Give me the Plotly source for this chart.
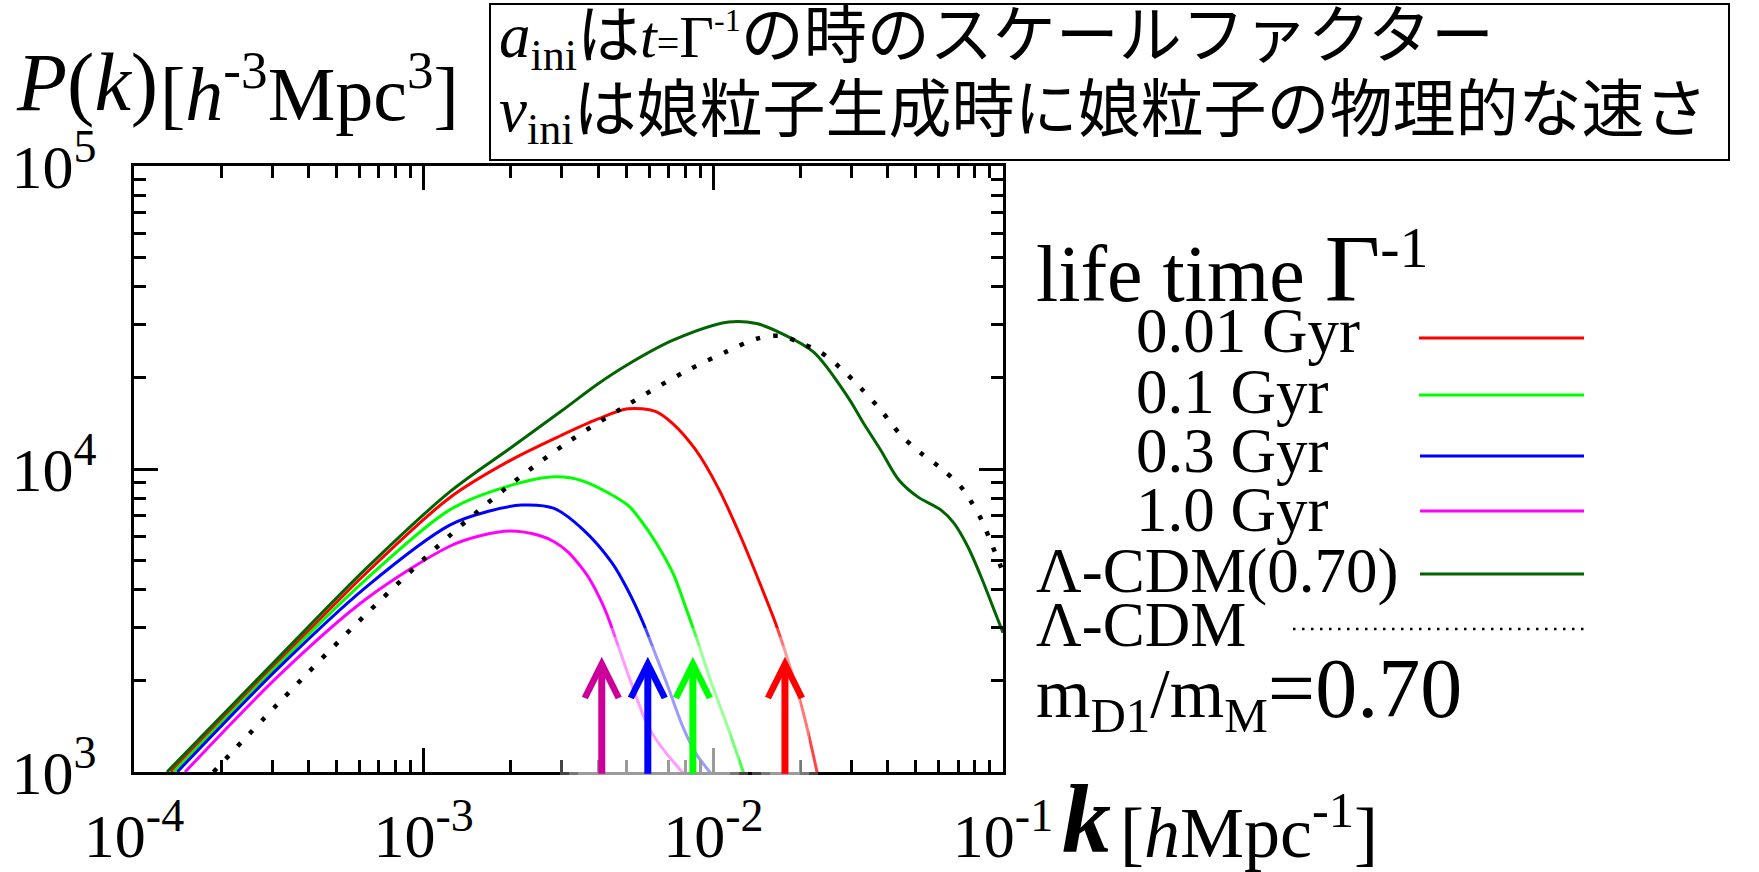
import math
import plotly.graph_objects as go

SERIF = "Liberation Serif"
JP = "Liberation Serif, Noto Sans CJK JP"

# ---- power spectra P(k) [h^-3 Mpc^3] vs k [h/Mpc] ----
# decay life time 0.01 Gyr
k_001 = [1.34e-4, 3.16e-4, 6.31e-4, 1.23e-3, 2.00e-3, 2.98e-3, 3.98e-3, 5.07e-3, 6.31e-3,
         7.26e-3, 8.67e-3, 1.04e-2, 1.24e-2, 1.48e-2, 1.67e-2, 2.02e-2, 2.28e-2, 2.51e-2]
P_001 = [1000, 2320, 4520, 8040, 10700, 12900, 14600, 15800, 15500,
         14100, 11600, 8650, 6010, 3980, 2950, 1640, 1000, 630]

# decay life time 0.1 Gyr
k_01 = [1.37e-4, 3.16e-4, 6.31e-4, 1.23e-3, 1.91e-3, 2.84e-3, 3.55e-3, 5.07e-3, 5.62e-3,
        6.31e-3, 7.26e-3, 7.98e-3, 8.91e-3, 9.72e-3, 1.12e-2, 1.26e-2, 1.41e-2]
P_01 = [1000, 2270, 4315, 7330, 8710, 9420, 9120, 7590, 6760,
        5750, 4520, 3550, 2630, 2040, 1410, 1020, 760]

# decay life time 0.3 Gyr
k_03 = [1.41e-4, 3.16e-4, 6.31e-4, 1.23e-3, 1.66e-3, 2.18e-3, 2.82e-3, 3.55e-3,
        4.47e-3, 5.07e-3, 5.68e-3, 6.31e-3, 6.92e-3, 7.85e-3, 8.71e-3, 9.89e-3, 1.12e-2]
P_03 = [1000, 2210, 4070, 6530, 7240, 7600, 7410, 6310,
        4900, 3980, 3160, 2450, 1950, 1410, 1150, 980, 850]

# decay life time 1.0 Gyr
k_10 = [1.50e-4, 3.16e-4, 6.31e-4, 1.23e-3, 1.58e-3, 1.99e-3, 2.51e-3, 2.82e-3, 3.16e-3,
        3.47e-3, 3.72e-3, 4.12e-3, 4.33e-3, 5.27e-3, 6.04e-3, 7.67e-3, 8.91e-3]
P_10 = [1000, 2080, 3715, 5560, 6030, 6240, 6030, 5750, 5310,
        4790, 4370, 3630, 3240, 1905, 1380, 1020, 890]

# Lambda-CDM with m_D1/m_M = 0.70
k_cdm070 = [1.30e-4, 3.16e-4, 6.31e-4, 1.23e-3, 2.00e-3, 2.98e-3, 3.98e-3, 5.07e-3,
            7.26e-3, 1.13e-2, 1.41e-2, 1.71e-2, 2.22e-2, 2.91e-2, 3.28e-2, 3.78e-2,
            4.37e-2, 5.08e-2, 6.10e-2, 6.76e-2, 7.57e-2, 8.40e-2, 9.31e-2, 0.100]
P_cdm070 = [1000, 2390, 4680, 8400, 11750, 15500, 19050, 22130,
            26610, 30550, 30200, 28100, 24300, 17300, 14300, 11560,
            9200, 8090, 7330, 6640, 5530, 4410, 3430, 2880]

# standard Lambda-CDM
k_cdm = [1.88e-4, 3.16e-4, 6.31e-4, 1.23e-3, 2.00e-3, 3.16e-3, 5.01e-3, 7.94e-3,
         1.12e-2, 1.41e-2, 1.71e-2, 2.00e-2, 2.34e-2, 2.75e-2, 3.23e-2, 3.78e-2,
         4.44e-2, 5.20e-2, 6.10e-2, 7.16e-2, 7.75e-2, 8.40e-2, 9.08e-2, 0.100]
P_cdm = [1000, 1690, 3310, 6030, 8910, 12300, 16200, 20900,
         24500, 26900, 27500, 26060, 24320, 21530, 18490, 15670,
         12940, 11300, 10070, 8730, 7830, 6840, 5740, 4570]

# cut-off wavenumbers marked with arrows (1.0, 0.3, 0.1, 0.01 Gyr)
arrow_k = [4.12e-3, 5.94e-3, 8.50e-3, 1.767e-2]
arrow_colors = ["#cc0099", "#0000ff", "#00ff00", "#ff0000"]
arrow_tip_P = 2400
arrow_base_P = 975

legend_labels = ["0.01 Gyr", "0.1 Gyr", "0.3 Gyr", "1.0 Gyr", "Λ-CDM(0.70)", "Λ-CDM"]

EXP = "<sup><span style='font-size:46px'>%s</span></sup>"
x_tickvals = [1e-4, 1e-3, 1e-2, 1e-1]
x_ticktext = ["10" + EXP % "-4", "10" + EXP % "-3", "10" + EXP % "-2", "10" + EXP % "-1"]
y_tickvals = [1e3, 1e4, 1e5]
y_ticktext = ["10" + EXP % "3", "10" + EXP % "4", "10" + EXP % "5"]

# ---- page geometry (pixels) ----
W, H = 1759, 872
L, R, T, B = 134, 1003, 166, 772


def xp(px):
    return (px - L) / (R - L)


def yp(py):
    return (B - py) / (B - T)


fig = go.Figure()

series = [
    (k_001, P_001, "#ff0000"),
    (k_01, P_01, "#00ff00"),
    (k_03, P_03, "#0000ff"),
    (k_10, P_10, "#ff00ff"),
    (k_cdm070, P_cdm070, "#006400"),
]
for kk, pp, col in series:
    fig.add_trace(go.Scatter(x=kk, y=pp, mode="lines",
                             line=dict(color=col, width=3, shape="spline", smoothing=0.9),
                             showlegend=False, hoverinfo="skip"))
fig.add_trace(go.Scatter(x=k_cdm, y=P_cdm, mode="lines",
                         line=dict(color="black", width=4.5, dash="4.5px,13px",
                                   shape="spline", smoothing=0.9),
                         showlegend=False, hoverinfo="skip"))

minor_x = [m * 10 ** e for e in (-4, -3, -2) for m in range(2, 10)]
minor_y = [m * 10 ** e for e in (3, 4) for m in range(2, 10)]

axis_common = dict(showgrid=False, zeroline=False, showline=True, linecolor="black",
                   linewidth=3, mirror="allticks", ticks="inside", ticklen=24,
                   tickwidth=3, tickcolor="black", automargin=False,
                   tickfont=dict(family=SERIF, size=62, color="black"))

fig.update_xaxes(type="log", range=[-4, -1], tickmode="array", tickvals=x_tickvals,
                 ticktext=x_ticktext, ticklabelstandoff=8,
                 minor=dict(ticks="inside", ticklen=12, tickwidth=3, tickcolor="black",
                            tickmode="array", tickvals=minor_x, showgrid=False),
                 **axis_common)
fig.update_yaxes(type="log", range=[3, 5], tickmode="array", tickvals=y_tickvals,
                 ticktext=y_ticktext, ticklabelstandoff=22,
                 minor=dict(ticks="inside", ticklen=12, tickwidth=3, tickcolor="black",
                            tickmode="array", tickvals=minor_y, showgrid=False),
                 **axis_common)

shapes = []


# soft white glow behind the cut-off arrows
def glow(x0, x1, y0, y1):
    for inset in (0, 9, 18):
        shapes.append(dict(type="rect", xref="paper", yref="paper",
                           x0=xp(x0 + inset), x1=xp(x1 - inset),
                           y0=yp(y1 - inset * 0.6), y1=yp(y0 + inset),
                           fillcolor="rgba(255,255,255,0.27)", line=dict(width=0),
                           layer="above"))


glow(560, 748, 628, 792)
glow(752, 818, 628, 792)

# legend line samples
legend_rows = [("#ff0000", 1419, 338, "solid"), ("#00ff00", 1419, 395, "solid"),
               ("#0000ff", 1420, 456, "solid"), ("#ff00ff", 1420, 511, "solid"),
               ("#006400", 1420, 574, "solid"), ("black", 1293, 629, "2.5px,6.5px")]
for col, x0, y, dash in legend_rows:
    shapes.append(dict(type="line", xref="paper", yref="paper",
                       x0=xp(x0), x1=xp(1584), y0=yp(y), y1=yp(y),
                       line=dict(color=col, width=3 if dash == "solid" else 2.5, dash=dash),
                       layer="above"))

# note box at the top
shapes.append(dict(type="rect", xref="paper", yref="paper",
                   x0=xp(490), x1=xp(1729), y0=yp(160), y1=yp(4),
                   line=dict(color="black", width=2), fillcolor="white", layer="above"))

fig.update_layout(shapes=shapes)


def text_at(px, base, size, txt, family=SERIF):
    # place text so that its baseline sits at pixel row `base`
    mid = base - 0.338 * size
    fig.add_annotation(x=xp(px), y=yp(mid), xref="paper", yref="paper",
                       xanchor="left", yanchor="middle", showarrow=False, align="left",
                       text=txt, font=dict(family=family, size=size, color="black"))


# axis titles
text_at(14, 110, 82, "<i>P</i>(<i>k</i>)")
text_at(158, 114, 76, "[<i>h</i><sup>-3</sup>Mpc<sup>3</sup>]")
text_at(1060, 852, 98, "<b><i>k</i></b>")
text_at(1118, 852, 72, "[<i>h</i>Mpc<sup>-1</sup>]")

# legend block
text_at(1034, 296, 80,
        "life time <span style='font-size:96px'>Γ</span>"
        "<sup><span style='font-size:58px'>-1</span></sup>")
legend_pos = [(1134, 352), (1134, 413), (1134, 472), (1134, 531), (1034, 592), (1034, 646)]
for lab, (px, base) in zip(legend_labels, legend_pos):
    text_at(px, base, 63, lab)
text_at(1034, 716, 70,
        "m<sub>D1</sub>/m<sub>M</sub><span style='font-size:84px'>=0.70</span>")

# notes inside the box
note1 = ("<i>a</i><sub>ini</sub>は<span style='font-size:60px'><i>t</i></span>"
         "<span style='font-size:40px'>=</span><span style='font-size:60px'>Γ</span>"
         "<sup><span style='font-size:32px'>-1</span></sup>"
         "の時のスケールファクター")
note2 = "<i>v</i><sub>ini</sub>は娘粒子生成時に娘粒子の物理的な速さ"
for txt, cy in ((note1, 40), (note2, 114)):
    fig.add_annotation(x=xp(497), y=yp(cy), xref="paper", yref="paper",
                       xanchor="left", yanchor="middle", showarrow=False, align="left",
                       text=txt, font=dict(family=JP, size=63, color="black"))

# cut-off arrows
for kc, col in zip(arrow_k, arrow_colors):
    fig.add_annotation(x=math.log10(kc), y=math.log10(arrow_tip_P),
                       ax=math.log10(kc), ay=math.log10(arrow_base_P),
                       xref="x", yref="y", axref="x", ayref="y", text="",
                       showarrow=True, arrowhead=5, arrowsize=0.95, arrowwidth=7,
                       arrowcolor=col, standoff=0, startstandoff=0)

fig.update_layout(template="none", width=W, height=H, autosize=False,
                  margin=dict(l=L, r=W - R, t=T, b=H - B, pad=0),
                  paper_bgcolor="white", plot_bgcolor="white", showlegend=False)

fig.write_html("out.html", config={"displayModeBar": False})
